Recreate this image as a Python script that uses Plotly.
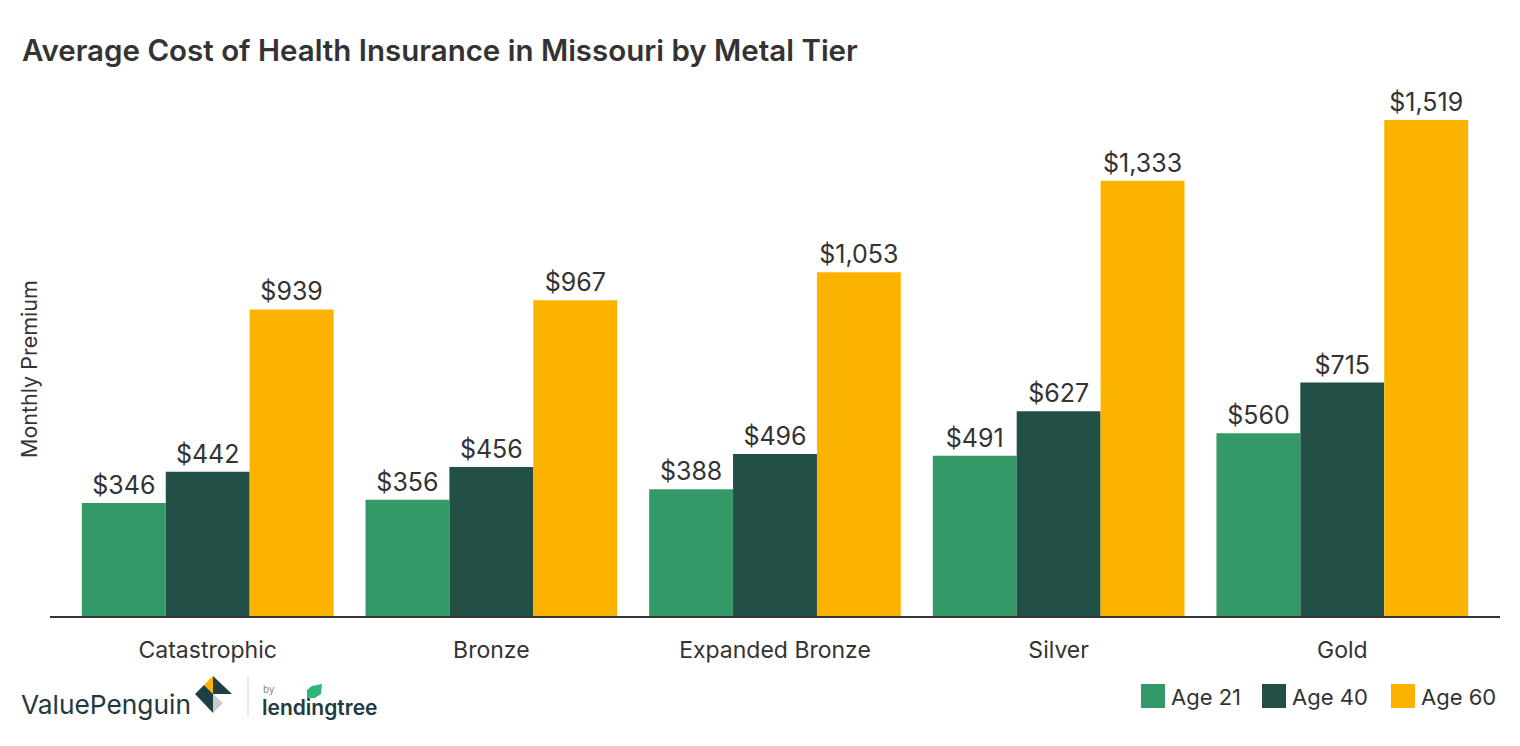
import plotly.graph_objects as go

# the page body has an 8px margin, so everything is laid out 8px up and left
OFFSET = 8
W, H = 1520 - OFFSET, 746 - OFFSET
L, R, T, B = 50 - OFFSET, 1500 - OFFSET, 120 - OFFSET, 616 - OFFSET

categories = ['Catastrophic', 'Bronze', 'Expanded Bronze', 'Silver', 'Gold']
age_21 = [346, 356, 388, 491, 560]
age_40 = [442, 456, 496, 627, 715]
age_60 = [939, 967, 1053, 1333, 1519]

series_names = ['Age 21', 'Age 40', 'Age 60']
series_values = [age_21, age_40, age_60]
colors = ['#339966', '#225046', '#FBB300']

TEXT = '#333333'
FONT = 'Inter'


# picture pixel position -> paper coordinates
def px(x):
    return (x - OFFSET - L) / (R - L)


def py(y):
    return (B - (y - OFFSET)) / (B - T)


def poly(points, color):
    path = 'M ' + ' L '.join(f'{px(x)} {py(y)}' for x, y in points) + ' Z'
    return dict(type='path', path=path, xref='paper', yref='paper',
                fillcolor=color, line_width=0, layer='above')


def label(x, y, text, size, color=TEXT, anchor='left', weight='normal', **kw):
    return dict(x=px(x), y=py(y), xref='paper', yref='paper', text=text,
                showarrow=False, xanchor=anchor, yanchor='middle',
                font=dict(family=FONT, size=size, color=color, weight=weight), **kw)


fig = go.Figure()
for name, values, color in zip(series_names, series_values, colors):
    fig.add_trace(go.Bar(
        x=categories, y=values, name=name, marker_color=color, marker_line_width=0,
        text=[f'${v:,}' for v in values], textposition='outside',
        textfont=dict(family=FONT, size=25, color=TEXT), cliponaxis=False))

shapes = []
annotations = [
    label(20, 50, 'Average Cost of Health Insurance in Missouri by Metal Tier', 29.5, weight=600),
    label(29, 369, 'Monthly Premium', 21.5, anchor='center', textangle=-90),
]

# legend drawn by hand, the swatches are bigger than the native ones
for name, color, sx in zip(series_names, colors, [1141, 1262, 1391]):
    shapes.append(dict(type='rect', xref='paper', yref='paper', x0=px(sx), x1=px(sx + 24),
                       y0=py(684), y1=py(708), fillcolor=color, line_width=0))
    annotations.append(label(sx + 28, 697, name, 22))

# logo
annotations.append(label(19, 704, 'ValuePenguin', 26.3, color='#21393f'))
shapes += [
    poly([(213, 676), (204, 685), (213, 694)], '#FBB300'),
    poly([(213, 676), (232, 694), (213, 694)], '#1f3f44'),
    poly([(204, 685), (195, 694), (213, 713), (213, 694)], '#1f3f44'),
    poly([(213, 694), (213, 713), (223, 703)], '#c9cccc'),
    poly([(247.5, 676), (248.5, 676), (248.5, 717), (247.5, 717)], '#d5d5d5'),
    poly([(322, 684), (321, 694), (315, 698), (307, 698), (307, 690), (312, 686)], '#2fb47c'),
]
annotations.append(label(261, 689, 'by', 10, color='#8a8a8a'))
annotations.append(label(260, 707, 'lendingtree', 21, color='#21393f', weight=600))

fig.update_layout(
    width=W, height=H, autosize=False,
    margin=dict(l=L, r=W - R, t=T, b=H - B, pad=0),
    plot_bgcolor='white', paper_bgcolor='white',
    barmode='group', bargap=0.1127, bargroupgap=0,
    showlegend=False,
    shapes=shapes, annotations=annotations,
    xaxis=dict(range=[-0.556, 4.556], showgrid=False, showline=True, linecolor='#333333',
               linewidth=2, ticks='', tickfont=dict(family=FONT, size=23, color=TEXT),
               ticklabelstandoff=12),
    yaxis=dict(range=[0, 1519], visible=False),
)

fig.write_html('out.html')
